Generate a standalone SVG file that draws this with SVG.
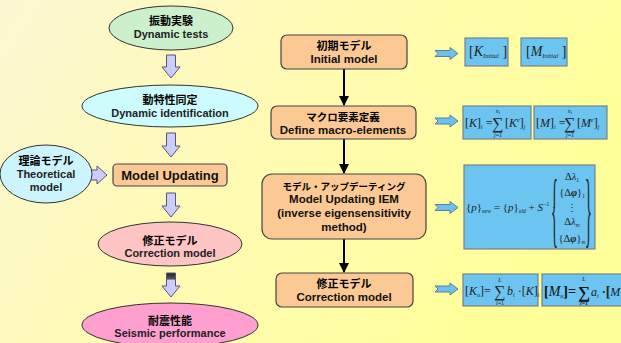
<svg xmlns="http://www.w3.org/2000/svg" width="621" height="343" viewBox="0 0 621 343">
<defs>
<linearGradient id="bg" x1="0" y1="0" x2="1" y2="0.35">
<stop offset="0" stop-color="#fbf7d2"/>
<stop offset="0.55" stop-color="#fffbb0"/>
<stop offset="1" stop-color="#ffff99"/>
</linearGradient>
<marker id="ah" viewBox="0 0 10 10" refX="9" refY="5" markerWidth="5" markerHeight="5" orient="auto" markerUnits="strokeWidth">
<path d="M0,0 L10,5 L0,10 z" fill="#000"/>
</marker>
<linearGradient id="darktop" x1="0" y1="0" x2="0" y2="1">
<stop offset="0" stop-color="#222"/>
<stop offset="0.25" stop-color="#555"/>
<stop offset="0.3" stop-color="#ccccff"/>
<stop offset="1" stop-color="#ccccff"/>
</linearGradient>
</defs>
<style>
.ell{stroke:#333;stroke-width:1}
.jp{font-family:"Noto Sans CJK JP","Noto Sans CJK SC",sans-serif;font-weight:bold;font-size:11px;fill:#000;text-anchor:middle}
.en{font-family:"Liberation Sans",Arial,sans-serif;font-weight:bold;font-size:11px;fill:#222;text-anchor:middle}
.mid{font-family:"Liberation Sans",Arial,sans-serif;font-weight:bold;font-size:11.5px;fill:#111;text-anchor:middle}
.box{fill:#fcc994;stroke:#444;stroke-width:1.2}
.blk{fill:#ccccff;stroke:#555577;stroke-width:1}
.barr{fill:#6cc0ee;stroke:#5a7fa0;stroke-width:1}
.fb{fill:#6cc4f0;stroke:#7a8088;stroke-width:1.2}
.m{font-family:"Liberation Serif","Times New Roman",serif;font-size:12px;fill:#222}
.ms{font-family:"Liberation Serif","Times New Roman",serif;font-size:6px;fill:#222}
.mb{font-family:"Liberation Serif","Times New Roman",serif;font-size:14px;fill:#111;font-weight:bold}
.line{stroke:#000;stroke-width:2;fill:none}
</style>
<rect width="621" height="343" fill="url(#bg)"/>

<g id="connectors">
<polygon class="blk" points="166.5,55 175.5,55 175.5,67 180,67 171,78 162,67 166.5,67"/>
<polygon class="blk" points="166.5,133 175.5,133 175.5,146 180,146 171,157 162,146 166.5,146"/>
<polygon class="blk" points="166.5,193 175.5,193 175.5,206 180,206 171,217 162,206 166.5,206"/>
<polygon points="166.5,273 175.5,273 175.5,286 180,286 171,297 162,286 166.5,286" fill="url(#darktop)" stroke="#555577" stroke-width="1"/>
<polygon class="blk" points="84,170 97,170 97,166 107,175 97,184 97,180 84,180"/>
<line class="line" x1="344" y1="69" x2="344" y2="105" marker-end="url(#ah)"/>
<line class="line" x1="344" y1="139" x2="344" y2="173" marker-end="url(#ah)"/>
<line class="line" x1="344" y1="239" x2="344" y2="272" marker-end="url(#ah)"/>
<polygon class="barr" points="435,50.5 450,50.5 450,47.5 458,53.5 450,59.5 450,56.5 435,56.5 438,53.5"/>
<polygon class="barr" points="435,118 450,118 450,115 458,121 450,127 450,124 435,124 438,121"/>
<polygon class="barr" points="435,204.5 450,204.5 450,201.5 458,207.5 450,213.5 450,210.5 435,210.5 438,207.5"/>
<polygon class="barr" points="435,286 450,286 450,283 458,289 450,295 450,292 435,292 438,289"/>
</g>

<g id="dynamic-tests">
<ellipse class="ell" cx="171" cy="28" rx="62" ry="22" fill="#ccf0cc"/>
<text class="jp" x="171" y="25">振動実験</text>
<text class="en" x="171" y="38">Dynamic tests</text>
</g>
<g id="dynamic-identification">
<ellipse class="ell" cx="170" cy="106" rx="88" ry="21" fill="#ccfcff"/>
<text class="jp" x="170" y="104">動特性同定</text>
<text class="en" x="170" y="117">Dynamic identification</text>
</g>
<g id="theoretical-model">
<ellipse class="ell" cx="46" cy="174" rx="46" ry="29" fill="#ccf4ff"/>
<text class="jp" x="46" y="165">理論モデル</text>
<text class="en" x="46" y="178">Theoretical</text>
<text class="en" x="46" y="191">model</text>
</g>
<g id="model-updating">
<rect x="113" y="164" width="114" height="22" rx="4" class="box"/>
<text class="en" x="170" y="180" style="font-size:13px;fill:#111">Model Updating</text>
</g>
<g id="correction-model-left">
<ellipse class="ell" cx="170" cy="244" rx="72" ry="22" fill="#ffc4c4"/>
<text class="jp" x="170" y="245">修正モデル</text>
<text class="en" x="170" y="257">Correction model</text>
</g>
<g id="seismic-performance">
<ellipse class="ell" cx="170" cy="325" rx="88" ry="22" fill="#ff9fd0"/>
<text class="jp" x="170" y="325">耐震性能</text>
<text class="en" x="170" y="337">Seismic performance</text>
</g>

<g id="initial-model">
<rect x="281" y="35" width="126" height="34" rx="6" class="box"/>
<text class="jp" x="344" y="50">初期モデル</text>
<text class="mid" x="344" y="63">Initial model</text>
</g>
<g id="macro-elements">
<rect x="271" y="106" width="145" height="33" rx="6" class="box"/>
<text class="jp" x="343" y="121" style="font-size:10.5px">マクロ要素定義</text>
<text class="mid" x="343" y="134">Define macro-elements</text>
</g>
<g id="model-updating-iem">
<rect x="262" y="174" width="164" height="65" rx="10" class="box"/>
<text class="jp" x="344" y="190" style="font-size:9.5px">モデル・アップデーティング</text>
<text class="mid" x="344" y="203">Model Updating IEM</text>
<text class="mid" x="344" y="217">(inverse eigensensitivity</text>
<text class="mid" x="344" y="231">method)</text>
</g>
<g id="correction-model-mid">
<rect x="276" y="273" width="137" height="34" rx="6" class="box"/>
<text class="jp" x="344" y="288">修正モデル</text>
<text class="mid" x="344" y="301">Correction model</text>
</g>

<g id="k-initial">
<rect x="465" y="38" width="43" height="28" class="fb"/>
<text class="m" x="469" y="56" style="font-size:14px">[<tspan font-style="italic">K</tspan><tspan font-size="6.5" font-style="italic" dy="2">Initial</tspan><tspan dy="-2"> ]</tspan></text>
</g>
<g id="m-initial">
<rect x="521" y="38" width="46" height="28" class="fb"/>
<text class="m" x="526" y="56" style="font-size:14px">[<tspan font-style="italic">M</tspan><tspan font-size="6.5" font-style="italic" dy="2">Initial</tspan><tspan dy="-2"> ]</tspan></text>
</g>
<g id="k-macro">
<rect x="463" y="106" width="68" height="33" class="fb"/>
<text class="m" x="465" y="127">[<tspan font-style="italic">K</tspan>]<tspan font-size="6" font-style="italic" dy="2">i</tspan><tspan dy="-2"> =</tspan></text>
<text class="m" x="498" y="129" text-anchor="middle" style="font-size:16px">∑</text>
<text class="ms" x="498" y="113" text-anchor="middle" font-style="italic">n<tspan font-size="4.5" dy="1">i</tspan></text>
<text class="ms" x="498" y="137" text-anchor="middle"><tspan font-style="italic">j</tspan>=1</text>
<text class="m" x="505" y="127">[<tspan font-style="italic">K</tspan><tspan font-size="6" font-style="italic" dy="-5">e</tspan><tspan dy="5">]</tspan><tspan font-size="6" font-style="italic" dy="2">j</tspan></text>
</g>
<g id="m-macro">
<rect x="534" y="106" width="73" height="33" class="fb"/>
<text class="m" x="536" y="127">[<tspan font-style="italic">M</tspan>]<tspan font-size="6" font-style="italic" dy="2">i</tspan><tspan dy="-2"> =</tspan></text>
<text class="m" x="570" y="129" text-anchor="middle" style="font-size:16px">∑</text>
<text class="ms" x="570" y="113" text-anchor="middle" font-style="italic">n<tspan font-size="4.5" dy="1">i</tspan></text>
<text class="ms" x="570" y="137" text-anchor="middle"><tspan font-style="italic">j</tspan>=1</text>
<text class="m" x="577" y="127">[<tspan font-style="italic">M</tspan><tspan font-size="6" font-style="italic" dy="-5">e</tspan><tspan dy="5">]</tspan><tspan font-size="6" font-style="italic" dy="2">j</tspan></text>
</g>
<g id="iem-formula">
<rect x="464" y="165" width="131" height="84" class="fb"/>
<text class="m" x="466" y="211" style="font-size:11px">{<tspan font-style="italic">p</tspan>}<tspan font-size="5.5" font-style="italic" dy="2">new</tspan><tspan dy="-2"> = {</tspan><tspan font-style="italic">p</tspan>}<tspan font-size="5.5" font-style="italic" dy="2">old</tspan><tspan dy="-2"> + </tspan><tspan font-style="italic">S</tspan><tspan font-size="6" dy="-5">−1</tspan><tspan dy="5"> ·</tspan></text>
<text class="m" x="0" y="0" transform="translate(551,237) scale(0.9,5.2)" style="font-size:16px">{</text>
<text class="m" x="0" y="0" transform="translate(585,237) scale(0.9,5.2)" style="font-size:16px">}</text>
<text class="m" x="572" y="180" text-anchor="middle" style="font-size:10.5px">Δ<tspan font-style="italic">λ</tspan><tspan font-size="5.5" dy="2">1</tspan></text>
<text class="m" x="572" y="196" text-anchor="middle" style="font-size:10.5px">{Δ<tspan font-style="italic" font-weight="bold">φ</tspan>}<tspan font-size="5.5" dy="2">1</tspan></text>
<text class="m" x="572" y="211" text-anchor="middle" style="font-size:10px">⋮</text>
<text class="m" x="572" y="225" text-anchor="middle" style="font-size:10.5px">Δ<tspan font-style="italic">λ</tspan><tspan font-size="5.5" font-style="italic" dy="2">m</tspan></text>
<text class="m" x="572" y="242" text-anchor="middle" style="font-size:10.5px">{Δ<tspan font-style="italic" font-weight="bold">φ</tspan>}<tspan font-size="5.5" font-style="italic" dy="2">m</tspan></text>
</g>
<g id="k-updated">
<rect x="463" y="274" width="75" height="32" class="fb"/>
<text class="m" x="465" y="295">[<tspan font-style="italic">K</tspan><tspan font-size="6" font-style="italic" dy="2">u</tspan><tspan dy="-2">]=</tspan></text>
<text class="m" x="500" y="297" text-anchor="middle" style="font-size:16px">∑</text>
<text class="ms" x="500" y="282" text-anchor="middle" font-style="italic">L</text>
<text class="ms" x="500" y="305" text-anchor="middle"><tspan font-style="italic">i</tspan>=1</text>
<text class="m" x="507" y="295"><tspan font-style="italic">b</tspan><tspan font-size="6" font-style="italic" dy="2">i</tspan><tspan dy="-2"> ·[</tspan><tspan font-style="italic">K</tspan>]<tspan font-size="6" font-style="italic" dy="2">i</tspan></text>
</g>
<g id="m-updated">
<rect x="542" y="274" width="90" height="32" class="fb"/>
<text class="mb" x="544" y="296">[<tspan font-style="italic" font-weight="normal">M</tspan><tspan font-size="6" font-style="italic" font-weight="normal" dy="2">u</tspan><tspan dy="-2">]=</tspan></text>
<text class="mb" x="584" y="298" text-anchor="middle" style="font-size:17px">∑</text>
<text class="ms" x="584" y="281" text-anchor="middle" font-style="italic">L</text>
<text class="ms" x="584" y="305" text-anchor="middle" font-weight="bold"><tspan font-style="italic">i</tspan>=1</text>
<text class="m" x="591" y="296"><tspan font-style="italic">a</tspan><tspan font-size="6" font-style="italic" dy="2">i</tspan><tspan dy="-2" font-weight="bold"> ·</tspan><tspan font-size="14" font-weight="bold">[</tspan><tspan font-style="italic">M</tspan><tspan font-weight="bold" font-size="14">]</tspan></text>
</g>
</svg>
